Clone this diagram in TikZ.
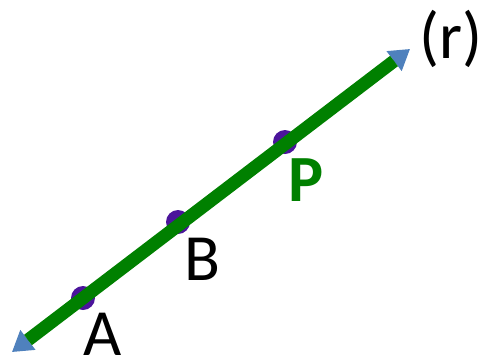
\documentclass[tikz,border=0pt]{standalone}
\usepackage{fontspec}
\setmainfont{Carlito}
\usetikzlibrary{arrows.meta}
\definecolor{lgreen}{RGB}{0,128,0}
\definecolor{ldot}{RGB}{75,20,155}
\definecolor{lblue}{RGB}{79,129,189}
\tikzset{
  pt/.style={circle,fill=ldot,inner sep=0pt,minimum size=24pt},
  lbl/.style={font=\fontsize{66}{66}\selectfont,text=black,inner sep=0pt},
  plbl/.style={font=\fontsize{66}{66}\selectfont\bfseries,text=lgreen,inner sep=0pt},
  tip/.style={lblue,line width=4pt,{Triangle[length=20pt,width=24pt]}-{Triangle[length=20pt,width=24pt]}},
  ray/.style={lgreen,line width=13pt}
}
\begin{document}
\begin{tikzpicture}[x=1pt,y=-1pt]
\useasboundingbox (0,0) rectangle (483,360);
\fill[white] (0,0) rectangle (483,360);
\coordinate (t1) at (12,352);
\coordinate (t2) at (410,49);
\coordinate (s) at (28,340);
\coordinate (e) at (394,61);
\node[pt] (a) at (83,298) {};
\node[pt] (b) at (178,222) {};
\node[pt] (p) at (285,142) {};
\draw[tip] (t1) -- (t2);
\draw[ray] (s) -- (e);
\node[lbl] (la) at (103,334) {A};
\node[lbl] (lb) at (202,259) {B};
\node[plbl] (lp) at (306,180) {P};
\node[lbl] (lr) at (451,39) {(r)};
\end{tikzpicture}
\end{document}
